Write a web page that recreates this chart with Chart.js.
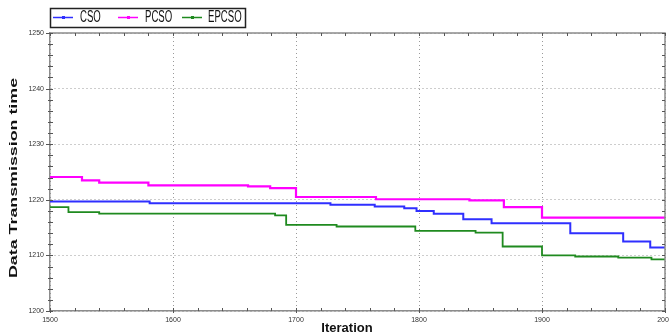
<!DOCTYPE html>
<html>
<head>
<meta charset="utf-8">
<script src="https://cdn.jsdelivr.net/npm/chart.js@4/dist/chart.umd.min.js"></script>
<style>
  html, body { margin: 0; padding: 0; background: #fff; }
  canvas { display: block; }
</style>
</head>
<body>
<canvas id="chart" width="669" height="335"></canvas>
<script>
// axis ticks
const xTicks = [1500, 1600, 1700, 1800, 1900, 2000];
const yTicks = [1200, 1210, 1220, 1230, 1240, 1250];

// step points: iteration where the value changes, and the new value
const csoIter  = [1500, 1581, 1728, 1764, 1788, 1798, 1812, 1836, 1859, 1923, 1966, 1988, 2000];
const csoTime  = [1219.7, 1219.4, 1219.1, 1218.8, 1218.5, 1218.0, 1217.5, 1216.5, 1215.8, 1214.0, 1212.5, 1211.4, 1211.4];

const pcsoIter = [1500, 1526, 1540, 1580, 1661, 1679, 1700, 1765, 1841, 1869, 1900, 2000];
const pcsoTime = [1224.1, 1223.5, 1223.1, 1222.6, 1222.4, 1222.1, 1220.5, 1220.1, 1219.9, 1218.7, 1216.8, 1216.8];

const epcsoIter = [1500, 1515, 1540, 1683, 1692, 1733, 1797, 1846, 1868, 1900, 1927, 1962, 1989, 2000];
const epcsoTime = [1218.7, 1217.8, 1217.5, 1217.2, 1215.5, 1215.2, 1214.4, 1214.1, 1211.6, 1210.0, 1209.8, 1209.6, 1209.3, 1209.3];

function points(xs, ys) {
    return xs.map((x, i) => ({x: x, y: ys[i]}));
}

const series = {
    datasets: [{
        label: 'CSO',
        data: points(csoIter, csoTime),
        borderColor: '#2f2fff',
        borderWidth: 2
    }, {
        label: 'PCSO',
        data: points(pcsoIter, pcsoTime),
        borderColor: '#ff00ff',
        borderWidth: 2.2
    }, {
        label: 'EPCSO',
        data: points(epcsoIter, epcsoTime),
        borderColor: '#1f8a1f',
        borderWidth: 1.8
    }]
}

// box legend in the top left corner
const boxLegend = {
    id: 'boxLegend',
    afterDraw(chart) {
        const ctx = chart.ctx;
        const lines = [53, 118, 182];
        const texts = [80, 145, 208];
        ctx.save();
        ctx.fillStyle = '#fff';
        ctx.fillRect(50, 8, 195, 19);
        ctx.strokeStyle = '#222';
        ctx.lineWidth = 1.5;
        ctx.strokeRect(50.5, 8.5, 195, 19);
        chart.data.datasets.forEach((ds, i) => {
            ctx.strokeStyle = ds.borderColor;
            ctx.lineWidth = 1.5;
            ctx.beginPath();
            ctx.moveTo(lines[i], 17.5);
            ctx.lineTo(lines[i] + 20, 17.5);
            ctx.stroke();
            ctx.fillStyle = ds.borderColor;
            ctx.fillRect(lines[i] + 9, 16, 3, 3);
            ctx.save();
            ctx.translate(texts[i], 18);
            ctx.scale(0.6, 1);
            ctx.fillStyle = '#111';
            ctx.font = '16px "Liberation Sans", Arial, sans-serif';
            ctx.textBaseline = 'middle';
            ctx.fillText(ds.label, 0, 0);
            ctx.restore();
        });
        ctx.restore();
    }
}

// frame on top/right, minor ticks and axis titles
const frame = {
    id: 'frame',
    afterDraw(chart) {
        const ctx = chart.ctx;
        const a = chart.chartArea;
        const x = chart.scales.x;
        const y = chart.scales.y;
        ctx.save();
        ctx.strokeStyle = '#8c8c8c';
        ctx.lineWidth = 1.5;
        ctx.beginPath();
        ctx.moveTo(a.left, a.top);
        ctx.lineTo(a.right, a.top);
        ctx.lineTo(a.right, a.bottom);
        ctx.stroke();

        ctx.strokeStyle = '#555';
        ctx.lineWidth = 1;
        ctx.beginPath();
        for (let v = xTicks[0]; v <= xTicks[xTicks.length - 1]; v += 20) {
            const px = Math.round(x.getPixelForValue(v)) + 0.5;
            const major = v % 100 === 0;
            ctx.moveTo(px, a.bottom - 3);
            ctx.lineTo(px, a.bottom + (major ? 2 : 0));
            ctx.moveTo(px, a.top);
            ctx.lineTo(px, a.top + 3);
        }
        for (let v = yTicks[0]; v <= yTicks[yTicks.length - 1]; v += 2) {
            const py = Math.round(y.getPixelForValue(v)) + 0.5;
            const major = v % 10 === 0;
            ctx.moveTo(a.left - (major ? 4 : 2), py);
            ctx.lineTo(a.left + 3, py);
            ctx.moveTo(a.right - 3, py);
            ctx.lineTo(a.right, py);
        }
        ctx.stroke();

        ctx.fillStyle = '#111';
        ctx.font = 'bold 13px "Liberation Sans", Arial, sans-serif';
        ctx.textAlign = 'center';
        ctx.textBaseline = 'middle';
        ctx.fillText('Iteration', 347, 328);

        ctx.save();
        ctx.translate(14, 178);
        ctx.rotate(-Math.PI / 2);
        ctx.scale(1.55, 1);
        ctx.font = 'bold 11.5px "Liberation Sans", Arial, sans-serif';
        ctx.fillText('Data Transmission time', 0, 0);
        ctx.restore();
        ctx.restore();
    }
}

const tickFont = {family: '"Liberation Sans", Arial, sans-serif', size: 7};

new Chart('chart', {
    type: 'line',
    data: series,
    plugins: [frame, boxLegend],
    options: {
        responsive: false,
        animation: false,
        layout: {padding: {top: 33, right: 4, left: 0, bottom: 0}},
        elements: {
            line: {stepped: 'before', tension: 0},
            point: {radius: 0}
        },
        plugins: {
            legend: {display: false},
            tooltip: {enabled: false}
        },
        scales: {
            x: {
                type: 'linear',
                min: xTicks[0],
                max: xTicks[xTicks.length - 1],
                ticks: {stepSize: 100, font: tickFont, color: '#333', padding: 5, maxRotation: 0,
                        callback: (v) => String(v)},
                grid: {color: '#9a9a9a', lineWidth: 1, drawTicks: false},
                border: {color: '#8c8c8c', width: 1.5, dash: [1, 3]},
                afterFit(s) {
                    s.height = 24;
                    s.paddingRight = 0;
                    s.paddingLeft = 0;
                }
            },
            y: {
                min: yTicks[0],
                max: yTicks[yTicks.length - 1],
                ticks: {stepSize: 10, font: tickFont, color: '#333', padding: 6,
                        callback: (v) => String(v)},
                grid: {color: '#9a9a9a', lineWidth: 1, drawTicks: false},
                border: {color: '#8c8c8c', width: 1.5, dash: [1, 3]},
                afterFit(s) {
                    s.width = 50;
                }
            }
        }
    }
});
</script>
</body>
</html>
